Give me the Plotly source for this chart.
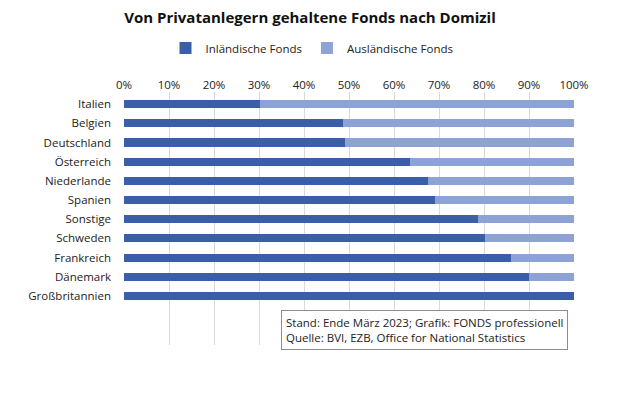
import plotly.graph_objects as go

countries = ["Italien", "Belgien", "Deutschland", "Österreich", "Niederlande", "Spanien",
             "Sonstige", "Schweden", "Frankreich", "Dänemark", "Großbritannien"]
inland = [30.2, 48.6, 49.1, 63.6, 67.5, 69.2, 78.6, 80.2, 86.0, 89.9, 100.0]
ausland = [round(100 - v, 1) for v in inland]
ticks = [0, 10, 20, 30, 40, 50, 60, 70, 80, 90, 100]
tick_labels = [f"{t}%" for t in ticks]

FONT = "Open Sans"
FS = 11.5
OFF = 8  # page body margin offset
fig = go.Figure()
fig.add_trace(go.Bar(y=countries, x=inland, orientation="h", name="Inländische Fonds",
                     marker=dict(color="#3B5EA8", line=dict(width=0)), width=0.42))
fig.add_trace(go.Bar(y=countries, x=ausland, orientation="h", name="Ausländische Fonds",
                     marker=dict(color="#8EA3D5", line=dict(width=0)), width=0.42))

H = 413
fig.update_layout(
    barmode="stack",
    width=620, height=H,
    margin=dict(l=124 - OFF, r=46 + OFF, t=92 - OFF, b=68 + OFF, autoexpand=False),
    paper_bgcolor="white", plot_bgcolor="white",
    font=dict(family=FONT, size=FS, color="#222222"),
    title=dict(text="<b>Von Privatanlegern gehaltene Fonds nach Domizil</b>",
               x=(310 - OFF) / 620, xanchor="center", y=1 - (18 - OFF) / H, yanchor="middle",
               font=dict(size=15, family=FONT, color="#111111")),
    legend=dict(orientation="h", x=(312 - OFF) / 620, xref="container", xanchor="center",
                y=1 - (48 - OFF) / H, yref="container",
                yanchor="middle", font=dict(size=FS), traceorder="normal",
                itemwidth=30, tracegroupgap=0),
    xaxis=dict(side="top", range=[0, 100], tickvals=ticks, ticktext=tick_labels,
               showgrid=True, gridcolor="#D9D9D9", gridwidth=1, zeroline=False,
               showline=False, ticks="", tickfont=dict(size=FS, color="#222222"),
               automargin=False),
    yaxis=dict(range=[12.55, -0.63], showgrid=False, ticks="", ticklabelstandoff=12,
               tickfont=dict(size=FS, color="#222222"), automargin=False),
)
fig.add_annotation(
    xref="paper", yref="paper", x=(281 - 124) / 450, y=1 - (310 - 92) / 253,
    xanchor="left", yanchor="top", align="left", showarrow=False,
    text="Stand: Ende März 2023; Grafik: FONDS professionell<br>Quelle: BVI, EZB, Office for National Statistics",
    font=dict(size=FS, family=FONT, color="#222222"),
    bgcolor="white", bordercolor="#8C8C8C", borderwidth=1, borderpad=4,
)
fig.write_html("out.html")
